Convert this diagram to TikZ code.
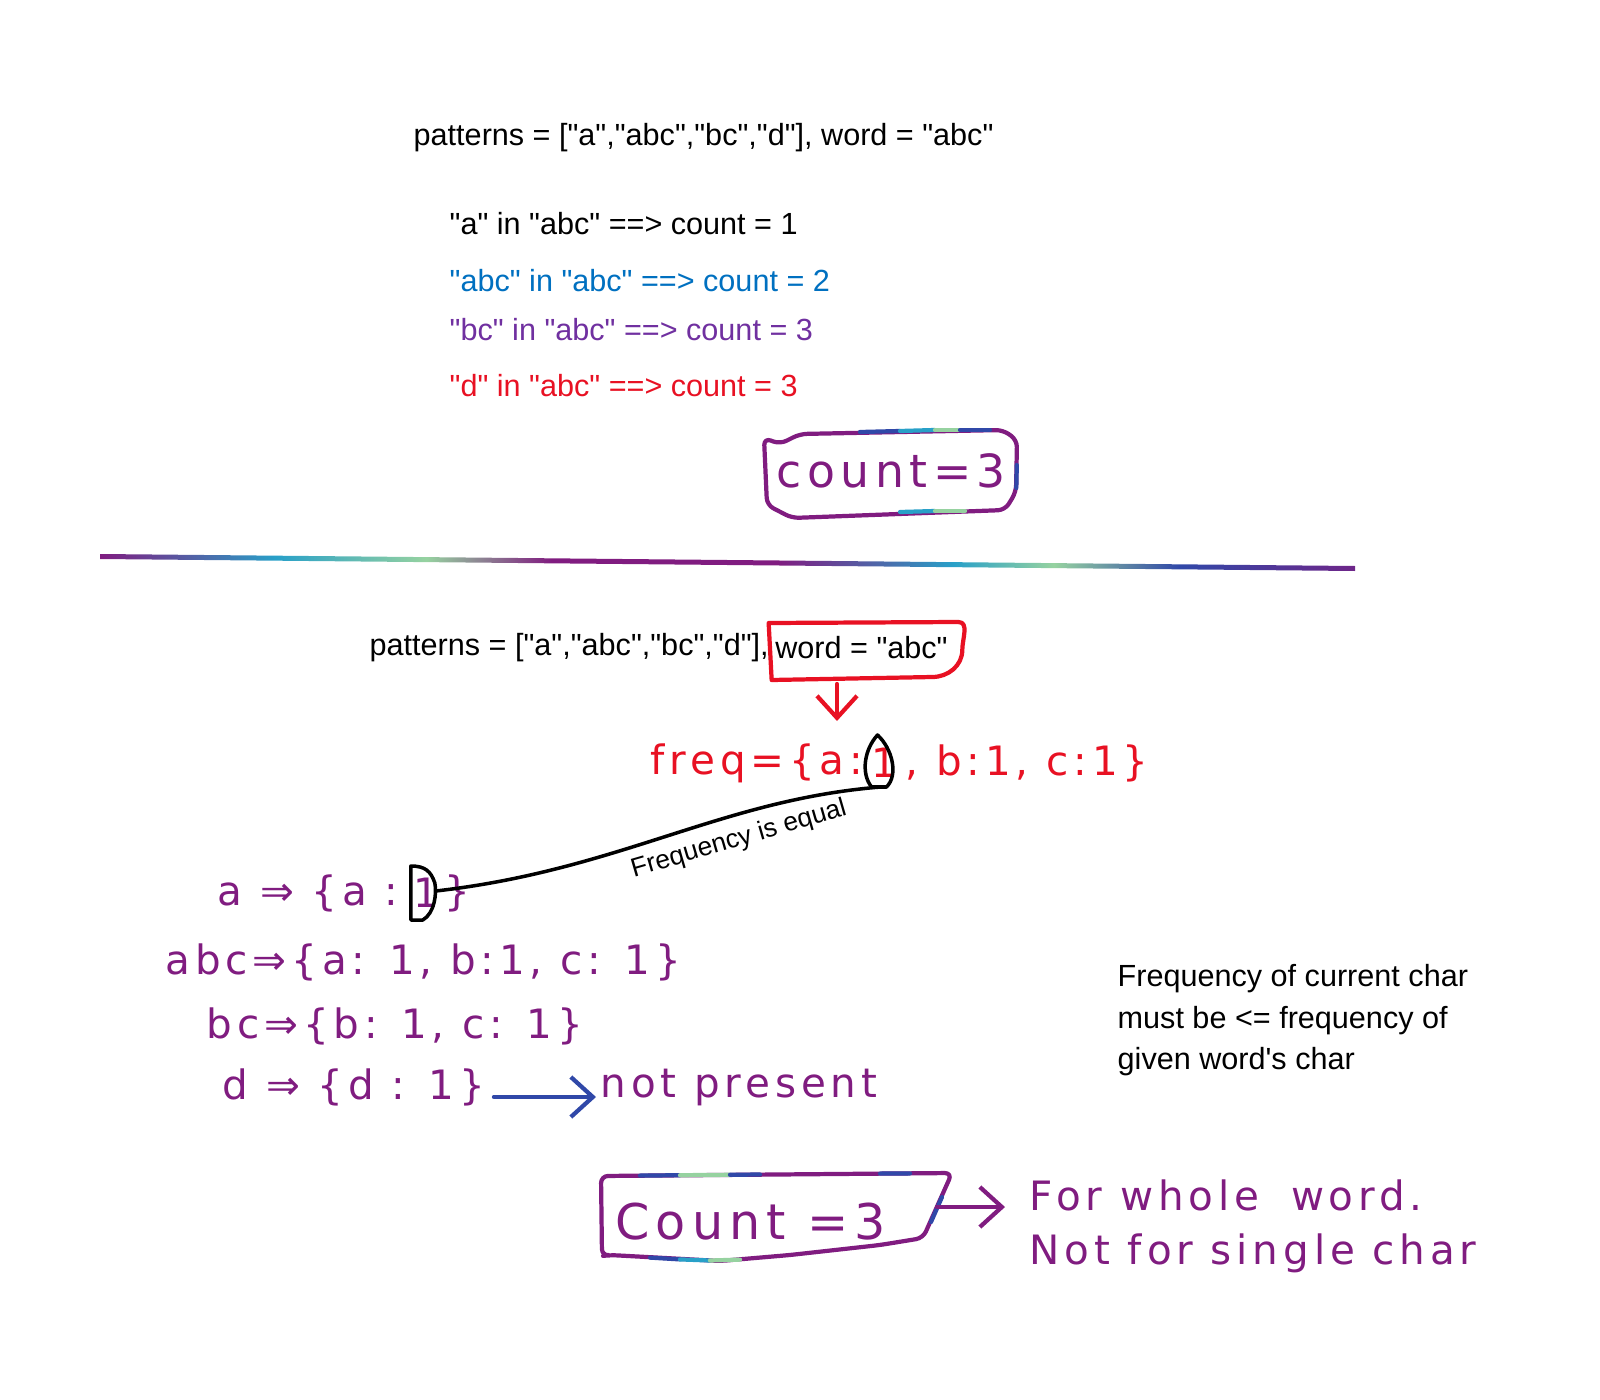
\documentclass[tikz,border=0pt]{standalone}
\usepackage{fontspec}
\setmainfont{Liberation Sans}
\newfontfamily\printfont{Liberation Sans}
\newfontfamily\handfont{DejaVu Sans}[LetterSpace=12]
\usetikzlibrary{calc,positioning,arrows.meta}

\definecolor{handpurple}{RGB}{128,28,128}
\definecolor{inkred}{RGB}{232,17,35}
\definecolor{txtblue}{RGB}{0,112,192}
\definecolor{txtpurple}{RGB}{112,48,160}
\definecolor{markblue}{RGB}{48,72,168}
\definecolor{markteal}{RGB}{40,160,200}
\definecolor{markgreen}{RGB}{150,210,160}

\pgfdeclarehorizontalshading{markershade}{100bp}{color(0bp)=(handpurple); color(8bp)=(markblue); color(13bp)=(markgreen); color(18bp)=(markblue); color(25bp)=(handpurple); color(32bp)=(markteal); color(38bp)=(markgreen); color(43bp)=(handpurple); color(52bp)=(handpurple); color(59bp)=(markteal); color(63bp)=(markgreen); color(68bp)=(markblue); color(77bp)=(handpurple); color(86bp)=(markgreen); color(93bp)=(handpurple); color(97bp)=(markblue); color(100bp)=(markgreen)}

\newcommand{\printsize}{\printfont\fontsize{8.7}{11.7}\selectfont}
\newcommand{\handsize}{\handfont\fontsize{11.5}{15.4}\selectfont}

\tikzset{
  printed/.style={font=\printsize, anchor=west, inner sep=0pt},
  hand/.style={font=\handsize, text=handpurple, anchor=west, inner sep=0pt},
  pen/.style={line width=1.2pt, line cap=round, line join=round},
  boxpen/.style={pen, draw=handpurple},
  redpen/.style={pen, draw=inkred},
  blackpen/.style={pen, draw=black, line width=1pt},
  handarrow/.style={pen, -{Straight Barb[length=2.2mm,width=4mm]}}
}

\begin{document}
\begin{tikzpicture}[x=0.01cm,y=-0.01cm]
\useasboundingbox (0,0) rectangle (1600,1400);

%%%%% upper part %%%%%
\node[printed] (pat1) at (413,138) {patterns = ["a","abc","bc","d"], word = "abc"};
\node[printed] (chk1) at (449,224) {"a" in "abc" ==> count = 1};
\node[printed, text=txtblue] (chk2) at (449,281) {"abc" in "abc" ==> count = 2};
\node[printed, text=txtpurple] (chk3) at (449,330) {"bc" in "abc" ==> count = 3};
\node[printed, text=inkred] (chk4) at (449,386) {"d" in "abc" ==> count = 3};

\draw[boxpen, rounded corners=2pt] (780,444) -- (764,438) -- (767,505) -- (792,518) -- (1005,510) -- (1016,492) -- (1017,440) -- (1003,430) -- (800,434) -- cycle;
\draw[pen, markblue] (860,432) -- (900,431);
\draw[pen, markteal] (900,431) -- (935,430);
\draw[pen, markgreen] (935,430) -- (960,430);
\draw[pen, markblue] (960,430) -- (990,430);
\draw[pen, markteal] (900,512) -- (935,511);
\draw[pen, markgreen] (935,511) -- (965,511);
\draw[pen, markblue] (1016.8,465) -- (1016.3,488);
\node[hand, font=\handfont\fontsize{13}{13}\selectfont] (cnt1) at (776,471) {count=3};

% divider
\shade[shading=markershade] (100,554) -- (1355,566) -- (1355,571) -- (100,559) -- cycle;

%%%%% lower part %%%%%
\node[printed] (pat2) at (369,648) {patterns = ["a","abc","bc","d"],};
\node[printed, right=1.5pt of pat2] (word2) {word = "abc"};
\draw[redpen] ($(word2.west)+(-3,32)$) -- ($(word2.west)+(-6,-25)$) -- ($(word2.east)+(10,-26)$)
  to[out=0,in=90] ($(word2.east)+(14,2)$) to[out=-90,in=0] ($(word2.east)+(-16,29)$) -- cycle;
\coordinate (wordarr) at (837,684);
\coordinate (freqtop) at (837,721);
\draw[handarrow, inkred] (wordarr) -- (freqtop);

\node[hand, text=inkred] (fq) at (650,763) {freq=\{a:};
\node[hand, text=inkred, right=2pt of fq] (fqone) {1};
\node[hand, text=inkred, right=2pt of fqone] (fqrest) {, b:1, c:1\}};
\draw[blackpen] ($(fqone.center)+(-7,-28)$) .. controls ($(fqone.center)+(8,-14)$) and ($(fqone.center)+(14,12)$) .. ($(fqone.center)+(2,24)$)
  -- ($(fqone.center)+(-13,24)$) .. controls ($(fqone.center)+(-24,10)$) and ($(fqone.center)+(-20,-14)$) .. cycle;
\coordinate (fqoneS) at ($(fqone.center)+(-4,24)$);

\node[hand] (pa) at (217,893) {a ⇒ \{a :};
\node[hand, right=4pt of pa] (aone) {1};
\node[hand, right=1pt of aone] (pacl) {\}};
\draw[blackpen] ($(aone.center)+(-16,-27)$) -- ($(aone.center)+(-16,27)$) -- ($(aone.center)+(-4,27)$)
  .. controls ($(aone.center)+(8,20)$) and ($(aone.center)+(10,0)$) .. ($(aone.center)+(8,-10)$)
  .. controls ($(aone.center)+(4,-22)$) and ($(aone.center)+(-2,-27)$) .. cycle;
\coordinate (aoneE) at ($(aone.center)+(9,-2)$);

\draw[blackpen] (aoneE) .. controls (620,870) and (720,800) .. (fqoneS)
  node[pos=0.66, sloped, below=3pt, font=\printfont\fontsize{7.5}{9}\selectfont, inner sep=0pt, draw=none] (eqlbl) {Frequency is equal};

\node[hand] (pabc) at (165,962) {abc⇒\{a: 1, b:1, c: 1\}};
\node[hand] (pbc) at (206,1026) {bc⇒\{b: 1, c: 1\}};
\node[hand] (pd) at (222,1087) {d ⇒ \{d : 1\}};
\node[hand] (notp) at (600,1087) {not present};
\draw[handarrow, markblue] ($(pd.east)+(8,10)$) -- ($(notp.west)+(-4,10)$);

\node[printed, align=left, anchor=north west] (rule) at (1117,964) {Frequency of current char\\must be <= frequency of\\given word's char};

% bottom box
\draw[boxpen, rounded corners=2pt] (601,1176) -- (952,1173) -- (923,1238) -- (880,1245) -- (790,1255) -- (720,1261) -- (610,1255) -- (602,1256) -- cycle;
\draw[pen, markblue] (640,1175.6) -- (680,1175.2);
\draw[pen, markgreen] (680,1175.2) -- (730,1174.8);
\draw[pen, markblue] (730,1174.8) -- (760,1174.5);
\draw[pen, markblue] (880,1173.6) -- (910,1173.4);
\draw[pen, markblue] (650,1257.6) -- (680,1259.4);
\draw[pen, markteal] (680,1259.4) -- (710,1260.5);
\draw[pen, markgreen] (710,1260.5) -- (740,1259.6);
\draw[pen, markblue] (942,1197) -- (931,1222);
\node[hand, font=\handfont\fontsize{14}{14}\selectfont] (cnt2) at (615,1222) {Count =3};

\coordinate (boxr) at (937,1207);
\node[hand, align=left] (note) at (1029,1226) {For whole \hspace{4pt}word.\\Not for single char};
\coordinate (noteend) at (1005,1207);
\draw[handarrow, handpurple] (boxr) -- (noteend);

\end{tikzpicture}
\end{document}
